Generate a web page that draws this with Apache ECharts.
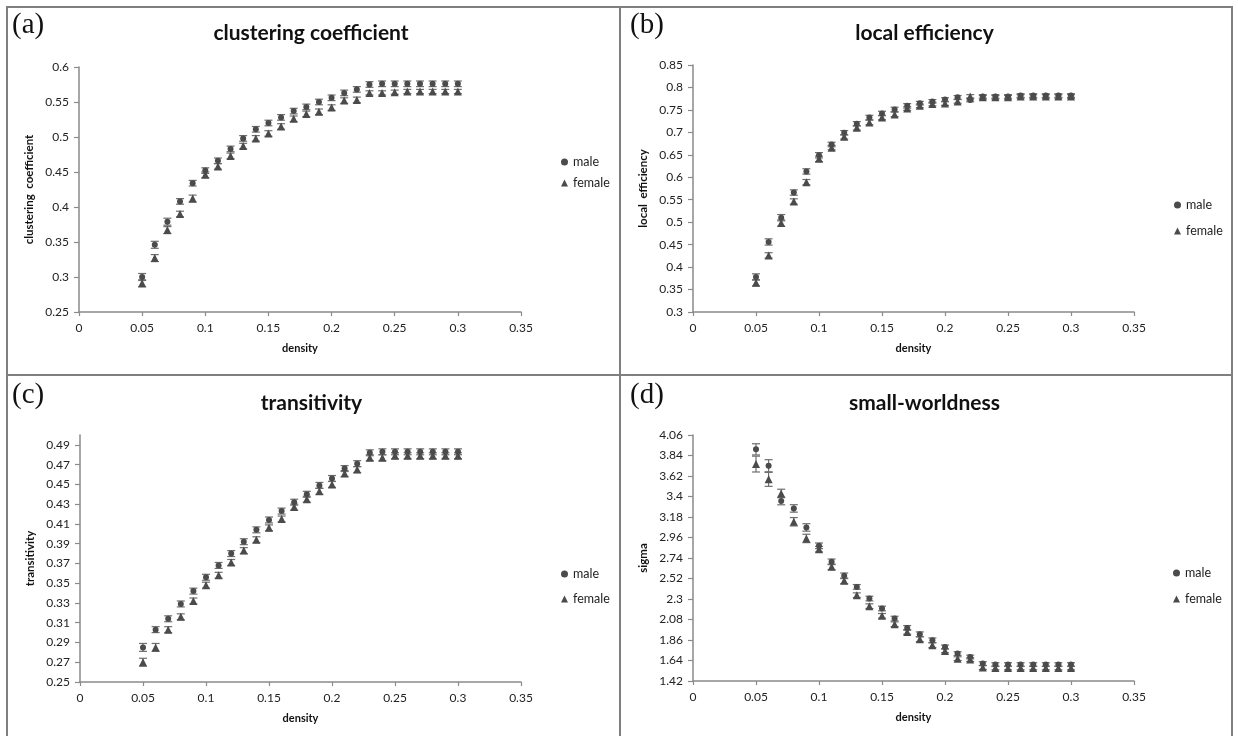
<!DOCTYPE html>
<html>
<head>
<meta charset="utf-8">
<script src="https://cdn.jsdelivr.net/npm/echarts@6/dist/echarts.min.js"></script>
<style>
html, body { margin: 0; padding: 0; background: #fff; }
#chart { width: 1238px; height: 736px; }
</style>
</head>
<body>
<div id="chart"></div>
<script>
// density steps shared by all four panels
const density = [0.05, 0.06, 0.07, 0.08, 0.09, 0.10, 0.11, 0.12, 0.13, 0.14, 0.15, 0.16, 0.17,
  0.18, 0.19, 0.20, 0.21, 0.22, 0.23, 0.24, 0.25, 0.26, 0.27, 0.28, 0.29, 0.30]
const xTicks = [0, 0.05, 0.1, 0.15, 0.2, 0.25, 0.3, 0.35]

// (a) clustering coefficient
const clusterMale = [0.300, 0.346, 0.379, 0.408, 0.434, 0.452, 0.466, 0.483, 0.498, 0.511, 0.520, 0.528, 0.537,
  0.543, 0.550, 0.556, 0.563, 0.568, 0.575, 0.576, 0.576, 0.576, 0.576, 0.576, 0.576, 0.576]
const clusterFemale = [0.291, 0.327, 0.367, 0.390, 0.412, 0.446, 0.458, 0.473, 0.487, 0.498, 0.505, 0.515, 0.526,
  0.533, 0.536, 0.542, 0.552, 0.553, 0.563, 0.563, 0.564, 0.565, 0.565, 0.565, 0.565, 0.565]
const clusterMaleErr = [0.005, 0.005, 0.005, 0.004, 0.004, 0.004, 0.004, 0.004, 0.004, 0.004, 0.004, 0.004, 0.004,
  0.004, 0.004, 0.004, 0.004, 0.004, 0.004, 0.004, 0.004, 0.004, 0.004, 0.004, 0.004, 0.004]
const clusterFemaleErr = [0.005, 0.005, 0.005, 0.004, 0.005, 0.004, 0.004, 0.004, 0.004, 0.004, 0.004, 0.004, 0.004,
  0.004, 0.004, 0.004, 0.004, 0.004, 0.003, 0.003, 0.003, 0.003, 0.003, 0.003, 0.003, 0.003]
const clusterTicks = [0.25, 0.3, 0.35, 0.4, 0.45, 0.5, 0.55, 0.6]

// (b) local efficiency
const localMale = [0.378, 0.456, 0.510, 0.566, 0.613, 0.649, 0.673, 0.699, 0.719, 0.733, 0.742, 0.751, 0.759,
  0.765, 0.769, 0.773, 0.778, 0.772, 0.780, 0.780, 0.780, 0.782, 0.782, 0.782, 0.782, 0.782]
const localFemale = [0.365, 0.426, 0.498, 0.546, 0.589, 0.641, 0.666, 0.690, 0.710, 0.722, 0.733, 0.740, 0.753,
  0.759, 0.763, 0.764, 0.769, 0.780, 0.778, 0.778, 0.778, 0.780, 0.780, 0.780, 0.780, 0.780]
const localMaleErr = [0.007, 0.007, 0.007, 0.006, 0.006, 0.006, 0.005, 0.005, 0.005, 0.005, 0.005, 0.005, 0.005,
  0.004, 0.004, 0.004, 0.004, 0.004, 0.004, 0.004, 0.004, 0.004, 0.004, 0.004, 0.004, 0.004]
const localFemaleErr = [0.007, 0.006, 0.007, 0.006, 0.006, 0.006, 0.005, 0.005, 0.005, 0.005, 0.005, 0.005, 0.004,
  0.004, 0.004, 0.004, 0.004, 0.004, 0.004, 0.004, 0.004, 0.004, 0.004, 0.004, 0.004, 0.004]
const localTicks = [0.3, 0.35, 0.4, 0.45, 0.5, 0.55, 0.6, 0.65, 0.7, 0.75, 0.8, 0.85]

// (c) transitivity
const transMale = [0.285, 0.303, 0.314, 0.329, 0.342, 0.356, 0.368, 0.380, 0.392, 0.404, 0.414, 0.423, 0.432,
  0.440, 0.449, 0.456, 0.466, 0.471, 0.482, 0.483, 0.483, 0.483, 0.483, 0.483, 0.483, 0.483]
const transFemale = [0.270, 0.285, 0.303, 0.316, 0.332, 0.348, 0.358, 0.371, 0.383, 0.394, 0.406, 0.415, 0.427,
  0.435, 0.443, 0.450, 0.461, 0.465, 0.477, 0.477, 0.479, 0.479, 0.479, 0.479, 0.479, 0.479]
const transMaleErr = [0.004, 0.003, 0.003, 0.003, 0.003, 0.003, 0.003, 0.003, 0.003, 0.003, 0.003, 0.003, 0.003,
  0.003, 0.003, 0.003, 0.003, 0.003, 0.003, 0.003, 0.003, 0.003, 0.003, 0.003, 0.003, 0.003]
const transFemaleErr = [0.004, 0.004, 0.003, 0.003, 0.003, 0.003, 0.003, 0.003, 0.003, 0.003, 0.003, 0.003, 0.003,
  0.003, 0.003, 0.003, 0.003, 0.003, 0.003, 0.003, 0.003, 0.003, 0.003, 0.003, 0.003, 0.003]
const transTicks = [0.25, 0.27, 0.29, 0.31, 0.33, 0.35, 0.37, 0.39, 0.41, 0.43, 0.45, 0.47, 0.49]

// (d) small-worldness
const sigmaMale = [3.906, 3.730, 3.351, 3.272, 3.068, 2.871, 2.699, 2.549, 2.430, 2.305, 2.198, 2.090, 1.990,
  1.922, 1.857, 1.786, 1.714, 1.678, 1.607, 1.596, 1.596, 1.596, 1.596, 1.596, 1.596, 1.596]
const sigmaFemale = [3.748, 3.584, 3.433, 3.129, 2.950, 2.835, 2.645, 2.495, 2.341, 2.223, 2.119, 2.029, 1.947,
  1.868, 1.804, 1.743, 1.660, 1.650, 1.564, 1.560, 1.560, 1.560, 1.560, 1.560, 1.560, 1.560]
const sigmaMaleErr = [0.060, 0.065, 0.040, 0.040, 0.040, 0.030, 0.030, 0.030, 0.025, 0.025, 0.025, 0.025, 0.025,
  0.025, 0.025, 0.020, 0.020, 0.020, 0.020, 0.020, 0.020, 0.020, 0.020, 0.020, 0.020, 0.020]
const sigmaFemaleErr = [0.085, 0.075, 0.045, 0.045, 0.045, 0.030, 0.030, 0.030, 0.025, 0.025, 0.025, 0.025, 0.025,
  0.025, 0.025, 0.020, 0.020, 0.020, 0.020, 0.020, 0.020, 0.020, 0.020, 0.020, 0.020, 0.020]
const sigmaTicks = [1.42, 1.64, 1.86, 2.08, 2.3, 2.52, 2.74, 2.96, 3.18, 3.4, 3.62, 3.84, 4.06]

const panels = [
  { tag: '(a)', title: 'clustering coefficient', yName: 'clustering  coefficient',
    male: clusterMale, female: clusterFemale, maleErr: clusterMaleErr, femaleErr: clusterFemaleErr,
    ticks: clusterTicks, yMin: 0.25, yMax: 0.6,
    grid: { left: 79, top: 67, width: 442, height: 245 }, legend: { left: 556, top: 150, gap: 7 },
    ox: 0, oy: 0 },
  { tag: '(b)', title: 'local efficiency', yName: 'local  efficiency',
    male: localMale, female: localFemale, maleErr: localMaleErr, femaleErr: localFemaleErr,
    ticks: localTicks, yMin: 0.3, yMax: 0.85,
    grid: { left: 693, top: 65, width: 441, height: 247 }, legend: { left: 1169, top: 193, gap: 12 },
    ox: 618, oy: 0 },
  { tag: '(c)', title: 'transitivity', yName: 'transitivity',
    male: transMale, female: transFemale, maleErr: transMaleErr, femaleErr: transFemaleErr,
    ticks: transTicks, yMin: 0.25, yMax: 0.5,
    grid: { left: 80, top: 435, width: 441, height: 247 }, legend: { left: 556, top: 562, gap: 11 },
    ox: 0, oy: 370 },
  { tag: '(d)', title: 'small-worldness', yName: 'sigma',
    male: sigmaMale, female: sigmaFemale, maleErr: sigmaMaleErr, femaleErr: sigmaFemaleErr,
    ticks: sigmaTicks, yMin: 1.42, yMax: 4.06,
    grid: { left: 693, top: 435, width: 441, height: 246 }, legend: { left: 1168, top: 561, gap: 12 },
    ox: 618, oy: 370 },
]

const font = 'Lato, "Open Sans", sans-serif'
const axisGray = '#8a8a8a'
const markColor = '#4b4b4b'

const fmt = (v) => String(Math.round(v * 100) / 100)

const errorBar = (params, api) => {
  const x = api.value(0)
  const lo = api.coord([x, api.value(1)])
  const hi = api.coord([x, api.value(2)])
  const w = 4
  const style = { stroke: '#6e6e6e', lineWidth: 1.2 }
  return {
    type: 'group',
    children: [
      { type: 'line', shape: { x1: lo[0], y1: hi[1], x2: lo[0], y2: lo[1] }, style },
      { type: 'line', shape: { x1: lo[0] - w, y1: hi[1], x2: lo[0] + w, y2: hi[1] }, style },
      { type: 'line', shape: { x1: lo[0] - w, y1: lo[1], x2: lo[0] + w, y2: lo[1] }, style },
    ],
  }
}

const grids = []
const xAxes = []
const yAxes = []
const series = []
const legends = []
const graphics = []

panels.forEach((p, i) => {
  grids.push({ ...p.grid, containLabel: false, outerBoundsMode: 'none' })
  xAxes.push({
    type: 'value', gridIndex: i, min: 0, max: 0.35, interval: 0.05,
    name: 'density', nameLocation: 'middle', nameGap: 31,
    nameTextStyle: { fontFamily: font, fontWeight: 'bold', fontSize: 11, color: '#111' },
    axisLine: { show: true, onZero: false, lineStyle: { color: axisGray, width: 1.5 } },
    axisTick: { show: true, length: 4, lineStyle: { color: axisGray, width: 1.2 } },
    axisLabel: { margin: 10, fontFamily: font, fontSize: 12, color: '#222', formatter: fmt },
    splitLine: { show: false },
  })
  yAxes.push({
    type: 'value', gridIndex: i, min: p.yMin, max: p.yMax,
    name: p.yName, nameLocation: 'middle', nameGap: 44, nameRotate: 90,
    nameTextStyle: { fontFamily: font, fontWeight: 'bold', fontSize: 11.5, color: '#111' },
    axisLine: { show: true, onZero: false, lineStyle: { color: axisGray, width: 1.5 } },
    axisTick: { show: true, length: 5, customValues: p.ticks, lineStyle: { color: axisGray, width: 1.2 } },
    axisLabel: { margin: 10, customValues: p.ticks, fontFamily: font, fontSize: 12, color: '#222', formatter: fmt },
    splitLine: { show: false },
  })
  const groups = [
    { name: 'male', mean: p.male, err: p.maleErr, symbol: 'circle', size: 6 },
    { name: 'female', mean: p.female, err: p.femaleErr, symbol: 'triangle', size: 8 },
  ]
  groups.forEach((g) => {
    series.push({
      type: 'custom', name: g.name + ' error', xAxisIndex: i, yAxisIndex: i, z: 2,
      renderItem: errorBar, silent: true,
      data: density.map((d, k) => [d, g.mean[k] - g.err[k], g.mean[k] + g.err[k]]),
    })
  })
  groups.forEach((g) => {
    series.push({
      type: 'scatter', name: g.name, xAxisIndex: i, yAxisIndex: i, z: 3,
      symbol: g.symbol, symbolSize: g.size,
      itemStyle: { color: markColor, opacity: 1 },
      data: density.map((d, k) => [d, g.mean[k]]),
    })
  })
  legends.push({
    left: p.legend.left, top: p.legend.top, orient: 'vertical', itemGap: p.legend.gap,
    itemWidth: 7, itemHeight: 7, selectedMode: false,
    textStyle: { fontFamily: font, fontSize: 12.5, color: '#222', lineHeight: 14 },
    data: [{ name: 'male', icon: 'circle' }, { name: 'female', icon: 'triangle' }],
  })
  graphics.push({
    type: 'text', x: p.ox + 12, y: p.oy + 25,
    style: { text: p.tag, font: '29px "Liberation Serif", serif', fill: '#111', textVerticalAlign: 'middle' },
  })
  graphics.push({
    type: 'text', x: p.grid.left + p.grid.width / 2 + 11, y: p.oy + 33,
    style: { text: p.title, font: 'bold 21px ' + font, fill: '#111', textAlign: 'center', textVerticalAlign: 'middle' },
  })
})

// panel frames
const frame = { stroke: '#7f7f7f', lineWidth: 2 }
graphics.push({ type: 'rect', shape: { x: 7, y: 7, width: 1225, height: 740 }, style: { ...frame, fill: 'none' } })
graphics.push({ type: 'line', shape: { x1: 620, y1: 7, x2: 620, y2: 736 }, style: frame })
graphics.push({ type: 'line', shape: { x1: 7, y1: 375, x2: 1232, y2: 375 }, style: frame })

const chart = echarts.init(document.getElementById('chart'))
chart.setOption({
  backgroundColor: '#fff',
  animation: false,
  grid: grids,
  xAxis: xAxes,
  yAxis: yAxes,
  legend: legends,
  series: series,
  graphic: graphics,
})
</script>
</body>
</html>
